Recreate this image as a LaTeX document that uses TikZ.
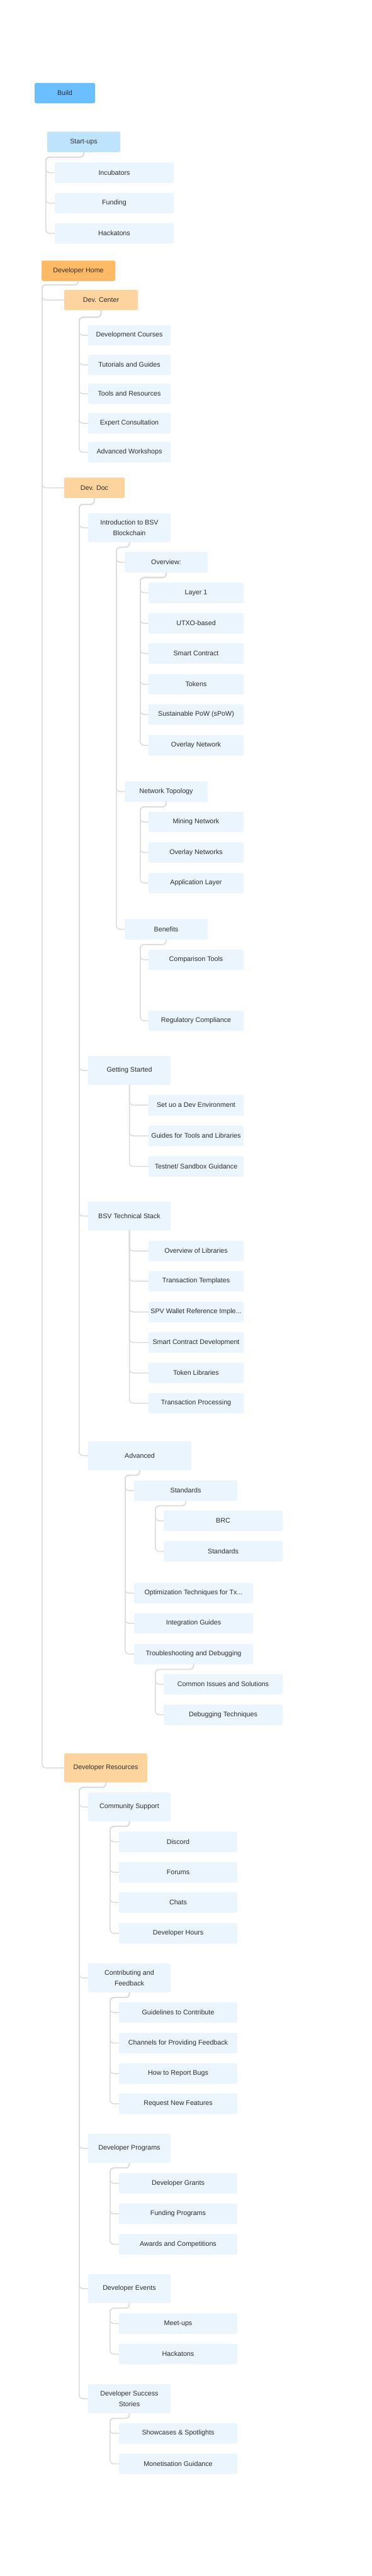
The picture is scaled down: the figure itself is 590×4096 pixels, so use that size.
\documentclass[tikz,border=0pt]{standalone}
\usepackage{fontspec}
\setmainfont{Liberation Sans}
\definecolor{buildblue}{HTML}{6BBFFF}
\definecolor{startblue}{HTML}{BEE3FC}
\definecolor{leafblue}{HTML}{EAF5FE}
\definecolor{homeorange}{HTML}{FFBA66}
\definecolor{partorange}{HTML}{FDD49D}
\definecolor{linkgray}{HTML}{DCDCDC}
\definecolor{txt}{HTML}{2E2E2E}
\begin{document}
\begin{tikzpicture}[x=1pt, y=-1pt,
    box/.style={rectangle, rounded corners=2.5pt, inner sep=0pt, minimum height=32.5pt, text=txt, align=center, font=\fontsize{10.7}{17.5}\selectfont},
    tall/.style={minimum height=46pt},
    build/.style={box, fill=buildblue, minimum width=96pt},
    startup/.style={box, fill=startblue, minimum width=116pt},
    home/.style={box, fill=homeorange, minimum width=#1},
    part/.style={box, fill=partorange, minimum width=#1},
    leaf/.style={box, fill=leafblue, minimum width=#1},
    leaf/.default=151pt,
    link/.style={draw=linkgray, line width=1.5pt, rounded corners=6pt}
]
    \fill[white] (0,0) rectangle (590,4096);

    % Build and start-ups
    \node[build] (build) at (103,148) {Build};
    \node[startup] (startups) at (133,225.5) {Start-ups};
    \node[leaf=189pt] (incub) at (181.5,274.5) {Incubators};
    \node[leaf=189pt] (fundg) at (181.5,323) {Funding};
    \node[leaf=189pt] (hack1) at (181.5,371) {Hackatons};

    % Developer home
    \node[home=117pt] (devhome) at (124.5,430.5) {Developer Home};
    \node[part=117pt] (devcenter) at (160.5,477) {Dev. Center};
    \node[leaf=131pt] (courses) at (205.5,533) {Development Courses};
    \node[leaf=131pt] (tutorials) at (205.5,580) {Tutorials and Guides};
    \node[leaf=131pt] (tools) at (205.5,626) {Tools and Resources};
    \node[leaf=131pt] (expert) at (205.5,673) {Expert Consultation};
    \node[leaf=131pt] (workshops) at (205.5,719) {Advanced Workshops};

    % Dev. Doc
    \node[part=96pt] (devdoc) at (150,775.5) {Dev. Doc};
    \node[leaf=131pt, tall] (intro) at (205.5,839) {Introduction to BSV\\Blockchain};
    \node[leaf=132pt] (overview) at (264,894) {Overview:};
    \node[leaf] (layer1) at (311.5,942.5) {Layer 1};
    \node[leaf] (utxo) at (311.5,991) {UTXO-based};
    \node[leaf] (smartc) at (311.5,1039) {Smart Contract};
    \node[leaf] (tokens) at (311.5,1088) {Tokens};
    \node[leaf] (spow) at (311.5,1136) {Sustainable PoW (sPoW)};
    \node[leaf] (overlay) at (311.5,1185) {Overlay Network};
    \node[leaf=132pt] (nettopo) at (264,1258.5) {Network Topology};
    \node[leaf] (mining) at (311.5,1307) {Mining Network};
    \node[leaf] (overlays) at (311.5,1355.5) {Overlay Networks};
    \node[leaf] (applayer) at (311.5,1404) {Application Layer};
    \node[leaf=132pt] (benefits) at (264,1477.5) {Benefits};
    \node[leaf] (comparison) at (311.5,1526) {Comparison Tools};
    \node[leaf] (regulatory) at (311.5,1623) {Regulatory Compliance};

    \node[leaf=131pt, tall] (gstart) at (205.5,1702) {Getting Started};
    \node[leaf] (setup) at (311.5,1757) {Set uo a Dev Environment};
    \node[leaf] (guides) at (311.5,1806) {Guides for Tools and Libraries};
    \node[leaf] (testnet) at (311.5,1854.5) {Testnet/ Sandbox Guidance};

    \node[leaf=131pt, tall] (stack) at (205.5,1933.5) {BSV Technical Stack};
    \node[leaf] (libs) at (311.5,1989) {Overview of Libraries};
    \node[leaf] (templates) at (311.5,2037) {Transaction Templates};
    \node[leaf] (spv) at (311.5,2086) {SPV Wallet Reference Imple...};
    \node[leaf] (scdev) at (311.5,2134.5) {Smart Contract Development};
    \node[leaf] (tokenlibs) at (311.5,2183) {Token Libraries};
    \node[leaf] (txproc) at (311.5,2231) {Transaction Processing};

    \node[leaf=164pt, tall] (advanced) at (222,2314.5) {Advanced};
    \node[leaf=164pt] (standards) at (295,2370) {Standards};
    \node[leaf=189pt] (brc) at (354.5,2418) {BRC};
    \node[leaf=189pt] (standards2) at (354.5,2466.5) {Standards};
    \node[leaf=189pt] (optim) at (307.5,2533) {Optimization Techniques for Tx...};
    \node[leaf=189pt] (integ) at (307.5,2581) {Integration Guides};
    \node[leaf=189pt] (trouble) at (307.5,2630) {Troubleshooting and Debugging};
    \node[leaf=189pt] (issues) at (354.5,2678) {Common Issues and Solutions};
    \node[leaf=189pt] (debugtech) at (354.5,2726.5) {Debugging Techniques};

    % Developer resources
    \node[part=132pt, tall] (devres) at (168,2811) {Developer Resources};
    \node[leaf=131pt, tall] (community) at (205.5,2873) {Community Support};
    \node[leaf=188pt] (discord) at (283,2928.5) {Discord};
    \node[leaf=188pt] (forums) at (283,2977) {Forums};
    \node[leaf=188pt] (chats) at (283,3025) {Chats};
    \node[leaf=188pt] (devhours) at (283,3074) {Developer Hours};

    \node[leaf=131pt, tall] (contrib) at (205.5,3145) {Contributing and\\Feedback};
    \node[leaf=188pt] (guidelines) at (283,3200) {Guidelines to Contribute};
    \node[leaf=188pt] (channels) at (283,3248.5) {Channels for Providing Feedback};
    \node[leaf=188pt] (report) at (283,3297) {How to Report Bugs};
    \node[leaf=188pt] (request) at (283,3345) {Request New Features};

    \node[leaf=131pt, tall] (programs) at (205.5,3416) {Developer Programs};
    \node[leaf=188pt] (grants) at (283,3471.5) {Developer Grants};
    \node[leaf=188pt] (fundprog) at (283,3520) {Funding Programs};
    \node[leaf=188pt] (awards) at (283,3568.5) {Awards and Competitions};

    \node[leaf=131pt, tall] (events) at (205.5,3639) {Developer Events};
    \node[leaf=188pt] (meetups) at (283,3694.5) {Meet-ups};
    \node[leaf=188pt] (hack2) at (283,3743) {Hackatons};

    \node[leaf=131pt, tall] (success) at (205.5,3814) {Developer Success\\Stories};
    \node[leaf=188pt] (showcases) at (283,3869) {Showcases \& Spotlights};
    \node[leaf=188pt] (monetise) at (283,3917.5) {Monetisation Guidance};

    % Branches
    \foreach \c in {incub,fundg,hack1}
        \draw[link] (startups.south) -- ++(0,8) -| ([xshift=-14pt]\c.west) -- (\c.west);
    \foreach \c in {devcenter,devdoc,devres}
        \draw[link] (devhome.south) -- ++(0,6) -| ([xshift=-35pt]\c.west) -- (\c.west);
    \foreach \c in {courses,tutorials,tools,expert,workshops}
        \draw[link] (devcenter.south) -- ++(0,11) -| ([xshift=-14pt]\c.west) -- (\c.west);
    \foreach \c in {intro,gstart,stack,advanced}
        \draw[link] (devdoc.south) -- ++(0,10) -| ([xshift=-14pt]\c.west) -- (\c.west);
    \foreach \c in {overview,nettopo,benefits}
        \draw[link] (intro.south) -- ++(0,8) -| ([xshift=-13pt]\c.west) -- (\c.west);
    \foreach \c in {layer1,utxo,smartc,tokens,spow,overlay}
        \draw[link] (overview.south) -- ++(0,8) -| ([xshift=-13pt]\c.west) -- (\c.west);
    \foreach \c in {mining,overlays,applayer}
        \draw[link] (nettopo.south) -- ++(0,8) -| ([xshift=-13pt]\c.west) -- (\c.west);
    \foreach \c in {comparison,regulatory}
        \draw[link] (benefits.south) -- ++(0,8) -| ([xshift=-13pt]\c.west) -- (\c.west);
    \foreach \c in {setup,guides,testnet}
        \draw[link] (gstart.south) |- (\c.west);
    \foreach \c in {libs,templates,spv,scdev,tokenlibs,txproc}
        \draw[link] (stack.south) |- (\c.west);
    \foreach \c in {standards,optim,integ,trouble}
        \draw[link] (advanced.south) -- ++(0,8) -| ([xshift=-14pt]\c.west) -- (\c.west);
    \foreach \c in {brc,standards2}
        \draw[link] (standards.south) -- ++(0,8) -| ([xshift=-13pt]\c.west) -- (\c.west);
    \foreach \c in {issues,debugtech}
        \draw[link] (trouble.south) -- ++(0,8) -| ([xshift=-13pt]\c.west) -- (\c.west);
    \foreach \c in {community,contrib,programs,events,success}
        \draw[link] (devres.south) -- ++(0,8) -| ([xshift=-14pt]\c.west) -- (\c.west);
    \foreach \c in {discord,forums,chats,devhours}
        \draw[link] (community.south) -- ++(0,8) -| ([xshift=-14pt]\c.west) -- (\c.west);
    \foreach \c in {guidelines,channels,report,request}
        \draw[link] (contrib.south) -- ++(0,8) -| ([xshift=-14pt]\c.west) -- (\c.west);
    \foreach \c in {grants,fundprog,awards}
        \draw[link] (programs.south) -- ++(0,8) -| ([xshift=-14pt]\c.west) -- (\c.west);
    \foreach \c in {meetups,hack2}
        \draw[link] (events.south) -- ++(0,8) -| ([xshift=-14pt]\c.west) -- (\c.west);
    \foreach \c in {showcases,monetise}
        \draw[link] (success.south) -- ++(0,8) -| ([xshift=-14pt]\c.west) -- (\c.west);
\end{tikzpicture}
\end{document}
